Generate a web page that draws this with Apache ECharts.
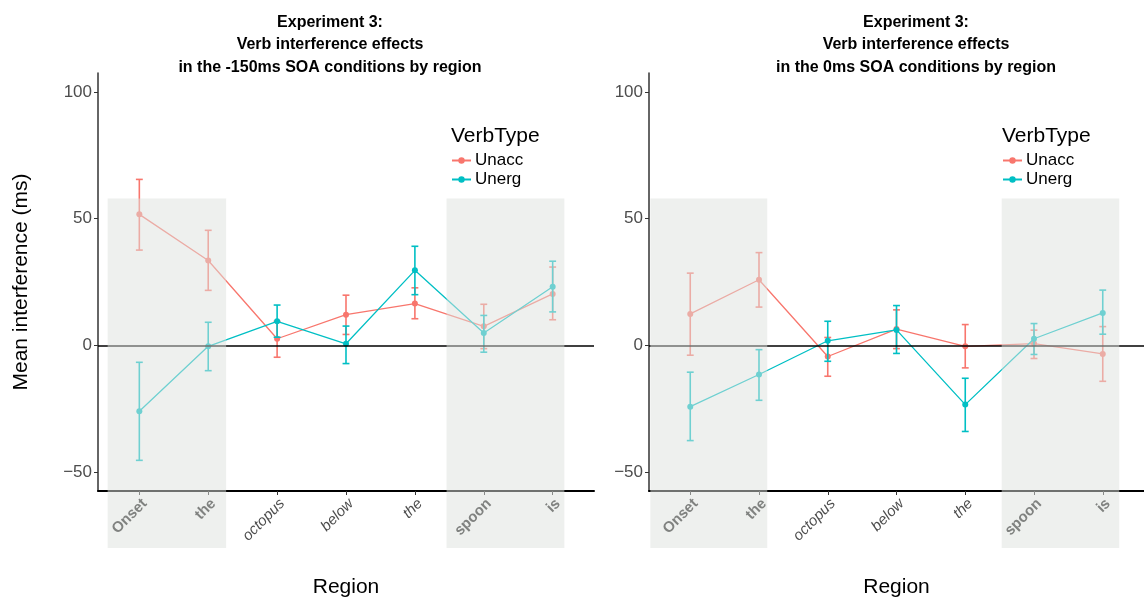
<!DOCTYPE html>
<html>
<head>
<meta charset="utf-8">
<script src="https://cdn.jsdelivr.net/npm/echarts@6/dist/echarts.min.js"></script>
<style>
  html, body { margin: 0; padding: 0; background: #fff; }
  #chart { width: 1144px; height: 603px; }
</style>
</head>
<body>
<div id="chart"></div>
<script>
// Regions of the sentence (x axis), in order
const regions = ['Onset', 'the', 'octopus', 'below', 'the', 'spoon', 'is'];
// Regions shown in bold (outside the critical window) vs italic
const boldRegion = [true, true, false, false, false, true, true];
const yTicks = [-50, 0, 50, 100];

// -150ms SOA panel: means and error-bar limits (ms)
const leftUnaccMean = [51.7, 33.5, 2.6, 12.1, 16.5, 7.5, 20.3];
const leftUnaccLow  = [37.6, 21.7, -4.7, 4.3, 10.5, -1.3, 10.1];
const leftUnaccHigh = [65.5, 45.4, 9.5, 19.8, 22.7, 16.2, 30.9];
const leftUnergMean = [-26.0, -0.4, 9.5, 0.6, 29.6, 4.9, 23.1];
const leftUnergLow  = [-45.4, -10.0, 3.2, -7.2, 20.0, -2.7, 13.2];
const leftUnergHigh = [-6.7, 9.1, 15.9, 7.6, 39.1, 11.8, 33.2];

// 0ms SOA panel
const rightUnaccMean = [12.4, 25.9, -4.4, 6.4, -0.4, 0.7, -3.4];
const rightUnaccLow  = [-3.9, 15.1, -12.2, -1.3, -8.9, -5.2, -14.2];
const rightUnaccHigh = [28.5, 36.6, 3.1, 14.0, 8.2, 6.0, 7.4];
const rightUnergMean = [-24.2, -11.5, 1.8, 6.1, -23.4, 2.6, 12.8];
const rightUnergLow  = [-37.6, -21.7, -6.3, -3.2, -34.0, -3.6, 4.4];
const rightUnergHigh = [-10.6, -1.7, 9.5, 15.7, -13.0, 8.6, 21.8];

// Shaded region spans (x in region units, y in ms)
const leftShade  = [[0.54, 2.26], [5.46, 7.17]];
const rightShade = [[0.42, 2.12], [5.53, 7.24]];
const shadeY = [-80, 58];

const RED = '#F8766D';
const CYAN = '#00BFC4';
const FONT = '"Liberation Sans", Arial, Helvetica, sans-serif';

const toPoints = (vals) => vals.map((v, i) => [i + 1, v]);
const toBars = (lo, hi) => lo.map((l, i) => [i + 1, l, hi[i]]);

function errorBarRender(color) {
  return function (params, api) {
    const x = api.value(0);
    const top = api.coord([x, api.value(2)]);
    const bot = api.coord([x, api.value(1)]);
    const capL = api.coord([x - 0.05, api.value(2)])[0];
    const capR = api.coord([x + 0.05, api.value(2)])[0];
    const style = { stroke: color, lineWidth: 1.6, fill: null };
    return {
      type: 'group',
      children: [
        { type: 'line', shape: { x1: top[0], y1: top[1], x2: bot[0], y2: bot[1] }, style },
        { type: 'line', shape: { x1: capL, y1: top[1], x2: capR, y2: top[1] }, style },
        { type: 'line', shape: { x1: capL, y1: bot[1], x2: capR, y2: bot[1] }, style }
      ]
    };
  };
}

function shadeRender(params, api) {
  const p1 = api.coord([api.value(0), shadeY[1]]);
  const p2 = api.coord([api.value(1), shadeY[0]]);
  return {
    type: 'rect',
    shape: { x: p1[0], y: p1[1], width: p2[0] - p1[0], height: p2[1] - p1[1] },
    style: { fill: 'rgba(222,226,222,0.5)' }
  };
}

function xAxisFor(idx) {
  return {
    type: 'value', gridIndex: idx, min: 0.4, max: 7.6,
    name: 'Region', nameLocation: 'middle', nameGap: 86,
    nameTextStyle: { fontSize: 21, color: '#000', fontFamily: FONT },
    splitLine: { show: false },
    axisLine: { onZero: false, lineStyle: { color: '#000', width: 2 } },
    axisTick: { customValues: regions.map((r, i) => i + 1), length: 4, lineStyle: { color: '#333' } },
    axisLabel: {
      customValues: regions.map((r, i) => i + 1),
      rotate: 45, margin: 5, verticalAlign: 'top',
      formatter: (v) => {
        const i = Math.round(v) - 1;
        return boldRegion[i] ? '{b|' + regions[i] + '}' : '{i|' + regions[i] + '}';
      },
      rich: {
        b: { fontSize: 15, fontWeight: 'bold', color: '#222', fontFamily: FONT },
        i: { fontSize: 15, fontStyle: 'italic', color: '#4d4d4d', fontFamily: FONT }
      }
    }
  };
}

function yAxisFor(idx, withName) {
  return {
    type: 'value', gridIndex: idx, min: -57.5, max: 107.5,
    name: withName ? 'Mean interference (ms)' : '',
    nameLocation: 'middle', nameGap: 66,
    nameTextStyle: { fontSize: 21, color: '#000', fontFamily: FONT },
    splitLine: { show: false },
    axisLine: { show: true, onZero: false, lineStyle: { color: '#333', width: 1.5 } },
    axisTick: { customValues: yTicks, length: 4, lineStyle: { color: '#333' } },
    axisLabel: {
      customValues: yTicks, margin: 6,
      fontSize: 17, color: '#4d4d4d', fontFamily: FONT,
      formatter: (v) => String(v).replace('-', '\u2212')
    }
  };
}

function panelSeries(idx, unaccM, unaccL, unaccH, unergM, unergL, unergH, shade) {
  return [
    {
      name: 'Unacc', type: 'line', xAxisIndex: idx, yAxisIndex: idx,
      data: toPoints(unaccM), color: RED, symbol: 'circle', symbolSize: 6,
      lineStyle: { width: 1.3 }, z: 3,
      markLine: {
        silent: true, symbol: 'none', label: { show: false },
        lineStyle: { color: '#000', width: 1.6, type: 'solid' },
        data: [{ yAxis: 0 }]
      }
    },
    {
      name: 'Unacc-err', type: 'custom', xAxisIndex: idx, yAxisIndex: idx,
      data: toBars(unaccL, unaccH), renderItem: errorBarRender(RED), z: 3
    },
    {
      name: 'Unerg', type: 'line', xAxisIndex: idx, yAxisIndex: idx,
      data: toPoints(unergM), color: CYAN, symbol: 'circle', symbolSize: 6,
      lineStyle: { width: 1.3 }, z: 4
    },
    {
      name: 'Unerg-err', type: 'custom', xAxisIndex: idx, yAxisIndex: idx,
      data: toBars(unergL, unergH), renderItem: errorBarRender(CYAN), z: 4
    },
    {
      name: 'shade', type: 'custom', xAxisIndex: idx, yAxisIndex: idx,
      data: shade, renderItem: shadeRender, clip: false, silent: true, z: 20
    }
  ];
}

function legendFor(left) {
  return {
    data: ['Unacc', 'Unerg'], orient: 'vertical', left: left, top: 147,
    itemWidth: 19, itemHeight: 8, itemGap: 2,
    textStyle: { fontSize: 17, color: '#000', fontFamily: FONT, padding: [0, 0, 0, -1] }
  };
}

const titleLines = (soa) => 'Experiment 3:\nVerb interference effects\nin the ' + soa + ' SOA conditions by region';

const chart = echarts.init(document.getElementById('chart'));
chart.setOption({
  animation: false,
  backgroundColor: '#fff',
  title: [
    { text: titleLines('-150ms'), left: 325, top: 6, textAlign: 'center',
      textStyle: { fontSize: 16, fontWeight: 'bold', color: '#000', fontFamily: FONT, lineHeight: 22.5 } },
    { text: titleLines('0ms'), left: 911, top: 6, textAlign: 'center',
      textStyle: { fontSize: 16, fontWeight: 'bold', color: '#000', fontFamily: FONT, lineHeight: 22.5 } },
    { text: 'VerbType', left: 446, top: 121,
      textStyle: { fontSize: 21, fontWeight: 'normal', color: '#000', fontFamily: FONT } },
    { text: 'VerbType', left: 997, top: 121,
      textStyle: { fontSize: 21, fontWeight: 'normal', color: '#000', fontFamily: FONT } }
  ],
  legend: [legendFor(446), legendFor(997)],
  grid: [
    { left: 98, top: 73, width: 496, height: 418 },
    { left: 649, top: 73, width: 495, height: 418 }
  ],
  xAxis: [xAxisFor(0), xAxisFor(1)],
  yAxis: [yAxisFor(0, true), yAxisFor(1, false)],
  series: [
    ...panelSeries(0, leftUnaccMean, leftUnaccLow, leftUnaccHigh,
      leftUnergMean, leftUnergLow, leftUnergHigh, leftShade),
    ...panelSeries(1, rightUnaccMean, rightUnaccLow, rightUnaccHigh,
      rightUnergMean, rightUnergLow, rightUnergHigh, rightShade)
  ]
});
</script>
</body>
</html>
